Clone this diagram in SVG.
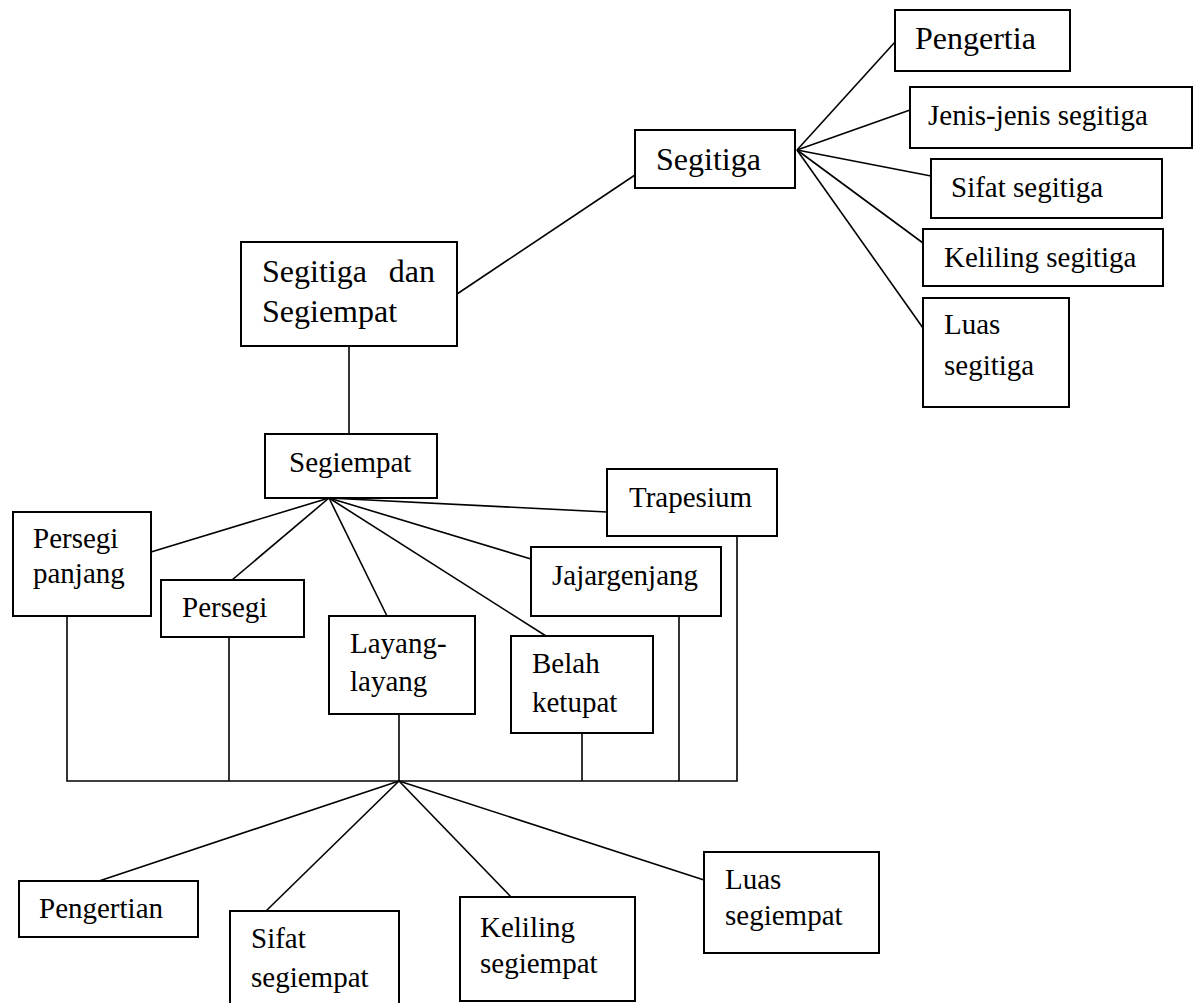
<svg xmlns="http://www.w3.org/2000/svg" width="1199" height="1003" viewBox="0 0 1199 1003">
<style>
rect{fill:#fff;stroke:#000;stroke-width:2}
text{font-family:"Liberation Serif","Times New Roman",serif;font-size:29px;fill:#000}
.big{font-size:32px}
#connectors line,#connectors polyline{stroke:#000;stroke-width:1.6;fill:none}
</style>
<rect x="0" y="0" width="1199" height="1003" style="fill:#fff;stroke:none"/>
<g id="connectors">
<line x1="457" y1="294" x2="635" y2="175"/>
<line x1="797" y1="150" x2="895" y2="42"/>
<line x1="797" y1="150" x2="910" y2="110"/>
<line x1="797" y1="150" x2="931" y2="176"/>
<line x1="797" y1="150" x2="923" y2="243"/>
<line x1="797" y1="150" x2="923" y2="328"/>
<line x1="349" y1="346" x2="349" y2="434"/>
<line x1="329" y1="498" x2="151" y2="552"/>
<line x1="329" y1="498" x2="232" y2="580"/>
<line x1="329" y1="498" x2="387" y2="616"/>
<line x1="329" y1="498" x2="546" y2="636"/>
<line x1="329" y1="498" x2="531" y2="559"/>
<line x1="329" y1="498" x2="607" y2="512"/>
<polyline points="67,616 67,781 737,781 737,536"/>
<line x1="229" y1="637" x2="229" y2="781"/>
<line x1="399" y1="714" x2="399" y2="781"/>
<line x1="582" y1="733" x2="582" y2="781"/>
<line x1="679" y1="616" x2="679" y2="781"/>
<line x1="399" y1="781" x2="99" y2="881"/>
<line x1="399" y1="781" x2="266" y2="911"/>
<line x1="399" y1="781" x2="511" y2="897"/>
<line x1="399" y1="781" x2="704" y2="880"/>
</g>
<g id="n-pengertia"><rect x="895" y="10" width="175" height="61"/><text class="big" x="915" y="49">Pengertia</text></g>
<g id="n-jenis"><rect x="910" y="87" width="282" height="61"/><text x="928" y="125">Jenis-jenis segitiga</text></g>
<g id="n-sifat-segitiga"><rect x="931" y="159" width="231" height="59"/><text x="951" y="197">Sifat segitiga</text></g>
<g id="n-keliling-segitiga"><rect x="923" y="229" width="240" height="57"/><text x="944" y="267">Keliling segitiga</text></g>
<g id="n-luas-segitiga"><rect x="923" y="298" width="146" height="109"/><text x="944" y="334">Luas</text><text x="944" y="375">segitiga</text></g>
<g id="n-segitiga"><rect x="635" y="130" width="160" height="58"/><text class="big" x="656" y="170">Segitiga</text></g>
<g id="n-root"><rect x="241" y="242" width="216" height="104"/><text class="big" x="262" y="282">Segitiga</text><text class="big" x="435" y="282" text-anchor="end">dan</text><text class="big" x="262" y="322">Segiempat</text></g>
<g id="n-segiempat"><rect x="265" y="434" width="172" height="64"/><text x="289" y="472">Segiempat</text></g>
<g id="n-trapesium"><rect x="607" y="469" width="170" height="67"/><text x="629" y="507">Trapesium</text></g>
<g id="n-persegi-panjang"><rect x="13" y="512" width="138" height="104"/><text x="33" y="548">Persegi</text><text x="33" y="583">panjang</text></g>
<g id="n-persegi"><rect x="161" y="580" width="143" height="57"/><text x="182" y="617">Persegi</text></g>
<g id="n-layang"><rect x="329" y="616" width="146" height="98"/><text x="350" y="653">Layang-</text><text x="350" y="691">layang</text></g>
<g id="n-belah"><rect x="511" y="636" width="142" height="97"/><text x="532" y="673">Belah</text><text x="532" y="712">ketupat</text></g>
<g id="n-jajar"><rect x="531" y="547" width="190" height="69"/><text x="552" y="585">Jajargenjang</text></g>
<g id="n-pengertian"><rect x="19" y="881" width="179" height="56"/><text x="39" y="918">Pengertian</text></g>
<g id="n-sifat-segiempat"><rect x="230" y="911" width="169" height="100"/><text x="251" y="948">Sifat</text><text x="251" y="987">segiempat</text></g>
<g id="n-keliling-segiempat"><rect x="460" y="897" width="175" height="104"/><text x="480" y="937">Keliling</text><text x="480" y="973">segiempat</text></g>
<g id="n-luas-segiempat"><rect x="704" y="852" width="175" height="101"/><text x="725" y="889">Luas</text><text x="725" y="925">segiempat</text></g>
</svg>
